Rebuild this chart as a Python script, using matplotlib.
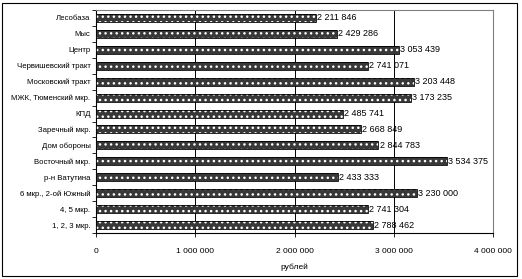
import numpy as np
import matplotlib
matplotlib.use("Agg")
import matplotlib.pyplot as plt
from matplotlib.patches import Rectangle

plt.rcParams['font.family'] = ['Liberation Sans', 'DejaVu Sans']

districts = [
    "Лесобаза", "Мыс", "Центр", "Червишевский тракт", "Московский тракт",
    "МЖК, Тюменский мкр.", "КПД", "Заречный мкр.", "Дом обороны",
    "Восточный мкр.", "р-н Ватутина", "6 мкр., 2-ой Южный", "4, 5 мкр.",
    "1, 2, 3 мкр.",
]
prices = [
    2211846, 2429286, 3053439, 2741071, 3203448, 3173235, 2485741,
    2668849, 2844783, 3534375, 2433333, 3230000, 2741304, 2788462,
]
x_ticks = [0, 1000000, 2000000, 3000000, 4000000]


def spaced(v):
    return f"{v:,}".replace(",", " ")


fig = plt.figure(figsize=(5.22, 2.79), dpi=100)
fig.patches.append(Rectangle((2 / 522, 3 / 279), 515 / 522, 273 / 279,
                             transform=fig.transFigure, fill=False,
                             edgecolor='black', linewidth=0.8))
ax = fig.add_axes([96 / 522, 1 - 233 / 279, 397 / 522, 223 / 279])

y = np.arange(len(districts))
ax.barh(y, prices, height=0.5, color='#383838', hatch='...',
        edgecolor='white', linewidth=0, zorder=3)
ax.barh(y, prices, height=0.5, fill=False, edgecolor='black',
        linewidth=0.6, zorder=4)

for yi, v in zip(y, prices):
    ax.text(v + 12000, yi, spaced(v), va='center', ha='left', fontsize=6.5, zorder=5)

ax.set_xlim(0, 4000000)
ax.set_ylim(len(districts) - 0.5, -0.5)
ax.set_xticks(x_ticks)
ax.set_xticklabels([spaced(t) for t in x_ticks], fontsize=6)
ax.set_yticks(y)
ax.set_yticklabels(districts, fontsize=5.6)
ax.set_yticks(np.arange(len(districts) + 1) - 0.5, minor=True)
ax.tick_params(axis='y', which='major', length=0, pad=4)
ax.tick_params(axis='y', which='minor', length=3, width=0.6)
ax.tick_params(axis='x', length=3, width=0.6, pad=8)
ax.xaxis.grid(True, color='black', linewidth=0.7, zorder=0)
ax.set_axisbelow(True)

for side in ['top', 'right']:
    ax.spines[side].set_color('#808080')
    ax.spines[side].set_linewidth(0.8)
for side in ['left', 'bottom']:
    ax.spines[side].set_color('black')
    ax.spines[side].set_linewidth(0.8)

ax.set_xlabel("рублей", fontsize=6, labelpad=6)

fig.savefig("out.png", dpi=100)
